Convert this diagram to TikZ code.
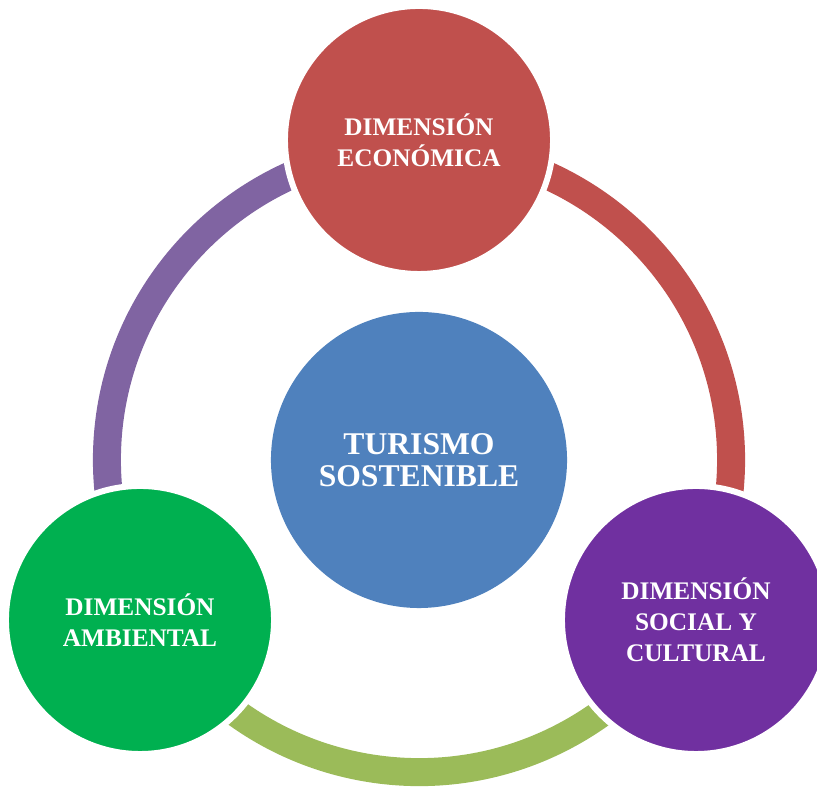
\documentclass[tikz,border=0pt]{standalone}
\usepackage{fontspec}
\setmainfont{Liberation Serif}
\usetikzlibrary{shapes}
\definecolor{red2}{RGB}{192,80,77}
\definecolor{blue2}{RGB}{79,129,189}
\definecolor{purple2}{RGB}{112,48,160}
\definecolor{green2}{RGB}{0,176,80}
\definecolor{violet2}{RGB}{128,100,162}
\definecolor{olive2}{RGB}{155,187,89}
\tikzset{
	dimension/.style={circle, draw=white, line width=0.15cm, minimum size=6.7cm, inner sep=0pt, align=center, text=white, font=\fontsize{18}{22}\selectfont\bfseries},
	ring/.style={line width=0.7cm}
}

\begin{document}
\begin{tikzpicture}[x=0.025cm,y=0.025cm]
	\newcommand \ringrad{7.8cm}
	\clip (0,0) rectangle (817,787);
%% Ring:
	\draw[ring, red2] (419,327) ++(90:\ringrad) arc (90:-30:\ringrad);
	\draw[ring, violet2] (419,327) ++(90:\ringrad) arc (90:210:\ringrad);
	\draw[ring, olive2] (419,327) ++(210:\ringrad) arc (210:330:\ringrad);

%% Circles:
	\node[circle, fill=blue2, minimum size=7.4cm, inner sep=0pt, align=center, text=white, font=\fontsize{22.5}{23}\selectfont\bfseries] (turismo) at (419,327) {TURISMO\\SOSTENIBLE};
	\node[dimension, fill=red2] (economica) at (419,647) {DIMENSIÓN\\ECONÓMICA};
	\node[dimension, fill=purple2] (social) at (696,167) {DIMENSIÓN\\SOCIAL Y\\CULTURAL};
	\node[dimension, fill=green2] (ambiental) at (140,167) {DIMENSIÓN\\AMBIENTAL};
\end{tikzpicture}
\end{document}
